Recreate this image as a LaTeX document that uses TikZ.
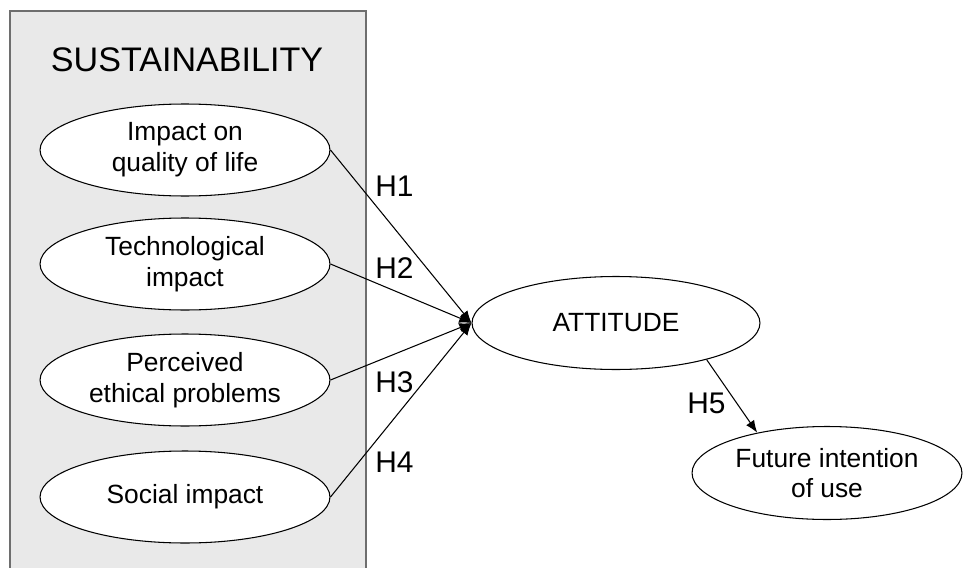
\documentclass[tikz,border=0pt]{standalone}
\usepackage{fontspec}
\setmainfont{Liberation Sans}
\usetikzlibrary{shapes.geometric,arrows.meta}
\definecolor{panelgray}{HTML}{E9E9E9}
\definecolor{edgegray}{HTML}{6E6E6E}
\begin{document}
\begin{tikzpicture}[x=0.02cm,y=-0.02cm,
  construct/.style={ellipse,draw,fill=white,line width=0.6pt,inner sep=0pt,
    minimum width=5.8cm,minimum height=1.84cm,align=center,
    font=\fontsize{15}{17.5}\selectfont},
  hyp/.style={line width=0.6pt,-{Latex[length=7pt,width=5.5pt]}},
  hlabel/.style={font=\fontsize{17}{20}\selectfont,inner sep=0pt,anchor=west}]
\useasboundingbox (0,0) rectangle (967,568);
\fill[panelgray] (10,11) rectangle (366,572);
\draw[edgegray,line width=0.8pt] (10,572) -- (10,11) -- (366,11) -- (366,572);
\node[font=\fontsize{19.4}{22}\selectfont] at (187,60) (title) {SUSTAINABILITY};
   \node[construct] at (185,150) (qol) {Impact on\\quality of life};
   \node[construct] at (185,264) (tech) {Technological\\impact};
   \node[construct] at (185,380) (ethic) {Perceived\\ethical problems};
   \node[construct] at (185,497) (social) {Social impact};
   \node[construct,minimum width=5.76cm,minimum height=1.86cm] at (616,323) (att) {ATTITUDE};
   \node[construct,minimum width=5.4cm,minimum height=1.86cm] at (827,473) (fut) {Future intention\\of use};
    \draw[hyp] (qol.east) -- (att.west);
    \draw[hyp] (tech.east) -- (att.west);
    \draw[hyp] (ethic.east) -- (att.west);
    \draw[hyp] (social.east) -- (att.west);
    \draw[hyp] (att.-22) -- (fut.150);
   \node[hlabel] at (375,186) (h1) {H1};
   \node[hlabel] at (375,268) (h2) {H2};
   \node[hlabel] at (375,382) (h3) {H3};
   \node[hlabel] at (375,462) (h4) {H4};
   \node[hlabel] at (687,403) (h5) {H5};
\end{tikzpicture}
\end{document}
